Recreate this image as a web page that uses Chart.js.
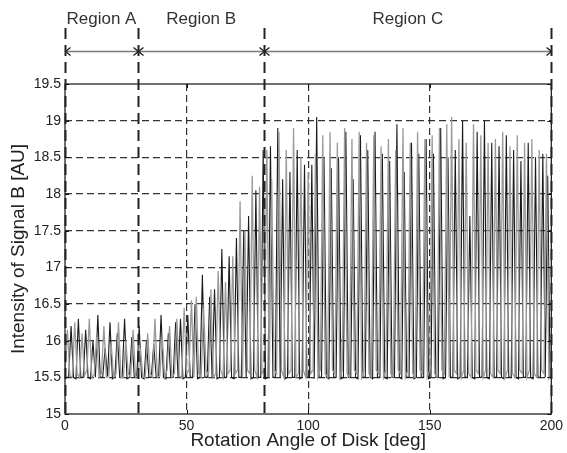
<!DOCTYPE html>
<html><head><meta charset="utf-8">
<script src="https://cdn.jsdelivr.net/npm/chart.js@4.4.1/dist/chart.umd.min.js"></script>
<style>html,body{margin:0;padding:0;background:#fff}canvas{display:block}</style>
</head><body>
<canvas id="c" width="567" height="453"></canvas>
<script>
// ---- data ----
const angleStep = 1;          // degrees between samples
const grayStartAngle = 0;     // first gray sample angle
const blackStartAngle = 0.5;  // first black sample angle

const grayValues = [
  15.55,16.15,15.52,15.5,16.25,15.55,15.5,16.1,15.52,15.6,
  16.3,15.5,15.53,16.05,15.5,15.55,16.2,15.5,15.52,15.95,
  15.5,15.55,16.25,15.5,15.5,16.0,15.55,15.5,16.15,15.5,
  15.52,15.9,15.5,15.5,16.1,15.55,15.5,16.3,15.5,15.52,
  16.05,15.5,15.6,16.2,15.5,15.55,16.3,15.52,15.5,16.45,
  15.55,15.6,16.55,15.5,16.6,15.55,15.5,16.45,15.6,15.52,
  16.7,15.5,15.55,16.95,15.6,15.5,16.8,15.55,15.6,17.15,
  15.55,15.6,17.9,15.5,17.5,15.6,15.55,18.25,15.6,15.5,
  18.1,15.55,15.6,18.6,15.5,18.2,15.6,15.55,18.85,15.6,
  15.5,18.6,15.55,15.6,18.9,15.5,15.55,18.5,15.6,15.5,
  18.3,15.55,15.6,18.55,15.5,15.6,18.8,15.55,15.5,18.85,
  15.6,15.55,18.7,15.5,15.6,18.9,15.55,15.5,18.75,15.6,
  15.55,18.85,15.5,15.6,18.7,15.55,15.5,18.8,15.6,15.55,
  18.65,15.5,15.6,18.75,15.55,15.5,18.6,15.6,15.55,18.9,
  15.5,15.6,18.7,15.55,15.5,18.85,15.6,15.55,18.75,15.5,
  15.6,18.8,15.55,15.5,18.9,15.6,15.55,18.95,15.5,19.05,
  15.6,15.55,18.75,15.5,15.6,18.7,15.55,15.5,18.95,15.6,
  15.55,18.8,15.5,15.6,18.7,15.55,15.5,18.75,15.6,15.55,
  18.85,15.5,15.6,18.65,15.55,15.5,18.8,15.6,15.55,18.7,
  15.5,15.6,18.75,15.55,15.5,18.6,15.6,15.55,18.55,15.5,
  15.6
];

const blackValues = [
  15.5,15.5,16.2,15.5,15.48,16.3,15.5,15.5,16.15,15.5,
  15.48,16.0,15.5,16.35,15.5,15.5,15.9,15.5,16.25,15.48,
  15.5,16.1,15.5,15.5,16.3,15.48,15.5,16.05,15.5,15.5,
  16.2,15.5,15.48,16.0,15.5,15.5,15.95,15.5,15.5,16.35,
  15.5,15.48,16.1,15.5,15.5,16.25,15.5,16.3,15.48,15.5,
  16.35,15.5,15.5,16.5,15.48,15.5,16.9,15.5,15.5,16.6,
  15.5,16.7,15.48,15.5,17.25,15.5,15.5,17.15,15.5,15.48,
  17.4,15.5,15.5,17.5,15.5,17.7,15.48,15.5,18.05,15.5,
  15.5,18.6,15.48,15.5,18.65,15.5,15.5,18.9,15.5,18.2,
  15.48,15.5,18.3,15.5,15.5,18.6,15.48,15.5,18.4,15.5,
  15.5,18.4,15.48,19.05,15.5,15.5,18.5,15.5,15.48,18.35,
  15.5,15.5,18.5,15.48,15.5,18.85,15.5,15.5,18.2,15.5,
  15.48,18.8,15.5,15.5,18.6,15.5,15.48,18.85,15.5,15.5,
  18.55,15.5,15.48,18.45,15.5,15.5,18.95,15.5,15.48,18.3,
  15.5,15.5,18.7,15.48,15.5,18.55,15.5,15.5,18.75,15.48,
  15.5,18.55,15.5,15.5,18.9,15.48,15.5,18.5,15.5,15.5,
  18.6,15.48,15.5,19.0,15.5,15.5,17.7,15.5,15.48,18.85,
  15.5,15.5,19.0,15.5,15.48,18.7,15.5,15.5,18.65,15.5,
  15.48,18.8,15.5,15.5,18.6,15.5,15.48,18.45,15.5,15.5,
  18.7,15.5,15.48,18.5,15.5,15.5,18.55,15.5,18.25,15.5
];

const xTickValues = [0, 50, 100, 150, 200];
const yTickValues = [15, 15.5, 16, 16.5, 17, 17.5, 18, 18.5, 19, 19.5];
const regionBounds = [0, 30, 82, 200];
const regionLabels = ['Region A', 'Region B', 'Region C'];

// ---- build library data ----
const grayPts = grayValues.map((v, i) => ({x: grayStartAngle + i * angleStep, y: v}));
const blackPts = blackValues.map((v, i) => ({x: blackStartAngle + i * angleStep, y: v}));

const FONT = "'Liberation Sans', Arial, sans-serif";

const annot = {
  id: 'annot',
  afterDatasetsDraw(chart) {
    const {ctx, chartArea: a, scales: {x, y}} = chart;
    ctx.save();
    // frame
    ctx.setLineDash([]);
    ctx.strokeStyle = '#111';
    ctx.lineWidth = 1.2;
    ctx.strokeRect(a.left, a.top, a.right - a.left, a.bottom - a.top);
    // inward ticks
    ctx.lineWidth = 1;
    ctx.beginPath();
    xTickValues.forEach(v => {
      const px = Math.round(x.getPixelForValue(v)) + 0.5;
      ctx.moveTo(px, a.bottom); ctx.lineTo(px, a.bottom - 4);
      ctx.moveTo(px, a.top); ctx.lineTo(px, a.top + 4);
    });
    yTickValues.forEach(v => {
      const py = Math.round(y.getPixelForValue(v)) + 0.5;
      ctx.moveTo(a.left, py); ctx.lineTo(a.left + 4, py);
      ctx.moveTo(a.right, py); ctx.lineTo(a.right - 4, py);
    });
    ctx.stroke();
    // region boundary lines
    ctx.setLineDash([11, 6]);
    ctx.lineWidth = 2;
    ctx.strokeStyle = '#222';
    regionBounds.forEach(b => {
      const px = Math.round(x.getPixelForValue(b)) + 0.5;
      ctx.beginPath(); ctx.moveTo(px, 28); ctx.lineTo(px, a.bottom); ctx.stroke();
    });
    // arrow line
    ctx.setLineDash([]);
    const ay = 51.5;
    const x0 = x.getPixelForValue(regionBounds[0]);
    const x1 = x.getPixelForValue(regionBounds[regionBounds.length - 1]);
    ctx.strokeStyle = '#7a7a7a';
    ctx.lineWidth = 1.6;
    ctx.beginPath(); ctx.moveTo(x0, ay); ctx.lineTo(x1, ay); ctx.stroke();
    ctx.strokeStyle = '#222';
    ctx.lineWidth = 1.4;
    regionBounds.forEach((b, i) => {
      const px = Math.round(x.getPixelForValue(b)) + 0.5;
      ctx.beginPath();
      if (i > 0) { ctx.moveTo(px - 5, ay - 4); ctx.lineTo(px, ay); ctx.lineTo(px - 5, ay + 4); }
      if (i < regionBounds.length - 1) { ctx.moveTo(px + 5, ay - 4); ctx.lineTo(px, ay); ctx.lineTo(px + 5, ay + 4); }
      ctx.stroke();
    });
    // labels
    ctx.fillStyle = '#333';
    ctx.font = '17px ' + FONT;
    ctx.textAlign = 'center';
    ctx.textBaseline = 'middle';
    regionLabels.forEach((t, i) => {
      const cx = (x.getPixelForValue(regionBounds[i]) + x.getPixelForValue(regionBounds[i + 1])) / 2;
      ctx.fillText(t, cx, 19);
    });
    ctx.restore();
  }
};

new Chart(document.getElementById('c'), {
  type: 'line',
  data: {
    datasets: [
      {label: 'black', data: blackPts, borderColor: '#1a1a1a', borderWidth: 1.1, pointRadius: 0, tension: 0, order: 1},
      {label: 'gray', data: grayPts, borderColor: '#9a9a9a', borderWidth: 1.3, pointRadius: 0, tension: 0, order: 0}
    ]
  },
  options: {
    responsive: false,
    animation: false,
    devicePixelRatio: 1,
    layout: {padding: {top: 84, right: 14, left: 0, bottom: 0}},
    plugins: {legend: {display: false}, tooltip: {enabled: false}},
    scales: {
      x: {
        type: 'linear', min: 0, max: 200,
        afterBuildTicks: s => { s.ticks = xTickValues.map(v => ({value: v})); },
        afterFit: s => { s.height = 39; },
        ticks: {font: {family: FONT, size: 14}, color: '#222', padding: 4, maxRotation: 0, callback: v => String(v)},
        grid: {
          drawTicks: false, lineWidth: 1.2,
          color: c => (c.tick && (c.tick.value === 0 || c.tick.value === 200)) ? 'rgba(0,0,0,0)' : '#333'
        },
        border: {display: false, dash: [7, 4]},
        title: {display: true, text: 'Rotation Angle of Disk [deg]', font: {family: FONT, size: 19}, color: '#222', padding: {top: 0, bottom: 1}}
      },
      y: {
        type: 'linear', min: 15, max: 19.5,
        afterBuildTicks: s => { s.ticks = yTickValues.map(v => ({value: v})); },
        afterFit: s => { s.width = 65; },
        ticks: {font: {family: FONT, size: 14}, color: '#222', padding: 4, callback: v => String(v)},
        grid: {
          drawTicks: false, lineWidth: 1.2,
          color: c => (c.tick && (c.tick.value === 15 || c.tick.value === 19.5)) ? 'rgba(0,0,0,0)' : '#333'
        },
        border: {display: false, dash: [7, 4]},
        title: {display: true, text: 'Intensity of Signal B [AU]', font: {family: FONT, size: 19}, color: '#222', padding: {top: 7, bottom: 0}}
      }
    }
  },
  plugins: [annot]
});
</script>
</body></html>
